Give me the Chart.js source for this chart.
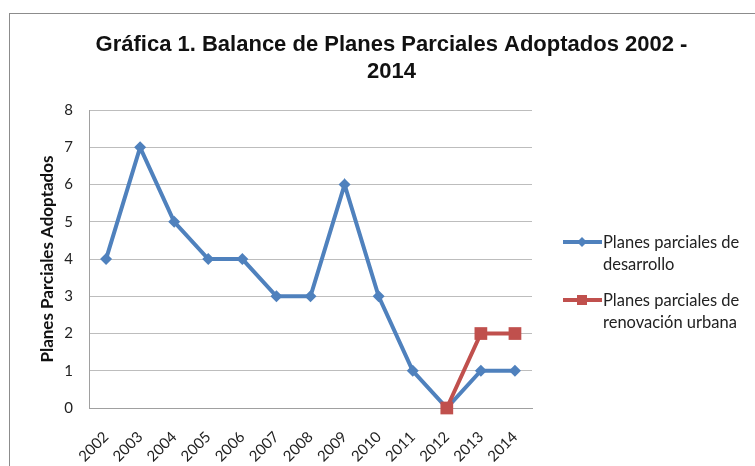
<!DOCTYPE html>
<html>
<head>
<meta charset="utf-8">
<script src="https://cdn.jsdelivr.net/npm/chart.js@4.4.1/dist/chart.umd.min.js"></script>
<style>
  html, body { margin: 0; padding: 0; background: #fff; overflow: hidden; width: 755px; height: 466px; }
  #frame { position: absolute; left: 9px; top: 13px; width: 820px; height: 520px; border: 1px solid #8c8c8c; box-sizing: border-box; }
  #wrap { position: absolute; left: 0; top: 0; width: 755px; height: 466px; }
  .leg { position: absolute; left: 563px; font-family: Lato, "Open Sans", sans-serif; font-size: 16.5px; color: #222; line-height: 22px; }
  .leg svg { position: absolute; left: 0; top: 4px; }
  .leg span { display: block; margin-left: 40px; white-space: nowrap; }
</style>
</head>
<body>
<div id="frame"></div>
<div id="wrap"><canvas id="c" width="755" height="466"></canvas></div>
<div class="leg" id="leg1" style="top:231px;">
  <svg width="40" height="14"><line x1="0" y1="7" x2="39" y2="7" stroke="#4F81BD" stroke-width="4"/><polygon points="19,2 24,7 19,12 14,7" fill="#4F81BD"/></svg>
  <span>Planes parciales de</span><span>desarrollo</span>
</div>
<div class="leg" id="leg2" style="top:289px;">
  <svg width="40" height="14"><line x1="0" y1="7" x2="39" y2="7" stroke="#C0504D" stroke-width="4"/><rect x="14" y="2" width="10" height="10" fill="#C0504D"/></svg>
  <span>Planes parciales de</span><span>renovación urbana</span>
</div>
<script>
const titleLines = ['Gráfica 1. Balance de Planes Parciales Adoptados 2002 -', '2014'];
const yAxisTitle = 'Planes Parciales Adoptados';
const years = ['2002','2003','2004','2005','2006','2007','2008','2009','2010','2011','2012','2013','2014'];
const desarrollo = [4, 7, 5, 4, 4, 3, 3, 6, 3, 1, 0, 1, 1];
const renovacion = [null, null, null, null, null, null, null, null, null, null, 0, 2, 2];
const seriesNames = ['Planes parciales de desarrollo', 'Planes parciales de renovación urbana'];
const yMin = 0, yMax = 8, yStep = 1;

const tickFont = { family: 'Lato, "Open Sans", sans-serif', size: 15 };

new Chart(document.getElementById('c'), {
  type: 'line',
  data: {
    labels: years,
    datasets: [
      {
        label: seriesNames[0], data: desarrollo,
        borderColor: '#4F81BD', backgroundColor: '#4F81BD',
        borderWidth: 4, tension: 0, pointStyle: 'rectRot', pointRadius: 6,
        pointBorderWidth: 0, clip: false, order: 1, yAxisID: 'y'
      },
      {
        label: seriesNames[1], data: renovacion,
        borderColor: '#C0504D', backgroundColor: '#C0504D',
        borderWidth: 4, tension: 0, pointStyle: 'rect', pointRadius: 9,
        pointBorderWidth: 0, clip: false, order: 0, spanGaps: false, yAxisID: 'y'
      }
    ]
  },
  options: {
    responsive: false,
    animation: false,
    devicePixelRatio: 1,
    layout: { padding: { left: 28, right: 0, top: 0, bottom: 0 } },
    plugins: {
      legend: { display: false },
      tooltip: { enabled: false },
      title: {
        display: true, text: titleLines, color: '#111',
        font: { family: '"Liberation Sans", Arial, sans-serif', size: 22, weight: 'bold', lineHeight: 1.23 },
        padding: { top: 31, bottom: 25 }
      }
    },
    scales: {
      x: {
        offset: true,
        grid: { display: false },
        border: { display: true, color: '#a0a0a0', width: 1 },
        ticks: { color: '#222', font: tickFont, minRotation: 45, maxRotation: 45, padding: 12 },
        afterFit: (s) => { s.height = 58; }
      },
      y: {
        min: yMin, max: yMax,
        grid: { color: '#bdbdbd', lineWidth: 1, drawTicks: false },
        border: { display: true, color: '#a0a0a0', width: 1 },
        ticks: { stepSize: yStep, color: '#222', font: tickFont, padding: 16 },
        title: { display: true, text: yAxisTitle, color: '#111', font: { family: 'Lato, "Open Sans", sans-serif', size: 17, weight: 'bold' }, padding: { top: 9, bottom: 0 } },
        afterFit: (s) => { s.width = 61; }
      },
      legendSpace: {
        position: 'right', display: true,
        grid: { display: false, drawTicks: false },
        border: { display: false },
        ticks: { display: false },
        afterFit: (s) => { s.width = 223; }
      }
    }
  }
});
</script>
</body>
</html>
